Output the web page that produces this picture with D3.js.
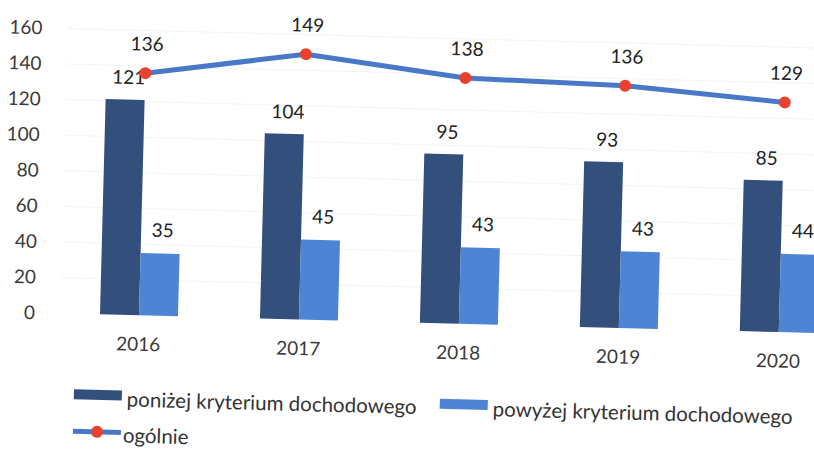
<!DOCTYPE html>
<html>
<head>
<meta charset="utf-8">
<script src="https://cdn.jsdelivr.net/npm/d3@7"></script>
<style>
  body { margin: 0; background: #fff; }
  svg { display: block; font-family: Lato, "Open Sans", sans-serif; }
</style>
</head>
<body>
<div id="chart"></div>
<script>
// data
const years = ["2016", "2017", "2018", "2019", "2020"];
const below = [121, 104, 95, 93, 85];   // poniżej kryterium dochodowego
const above = [35, 45, 43, 43, 44];     // powyżej kryterium dochodowego
const total = [136, 149, 138, 136, 129]; // ogólnie
const yTicks = [0, 20, 40, 60, 80, 100, 120, 140, 160];
const seriesNames = ["poniżej kryterium dochodowego", "powyżej kryterium dochodowego", "ogólnie"];

const WIDTH = 814;
const HEIGHT = 450;
const BASE = 312.5;
const TOP = 27.5;
const DARK = "#33507c";
const LIGHT = "#4d84d6";
const LINE = "#4a78c9";
const DOT = "#e8412f";

const svg = d3.select("#chart").append("svg")
  .attr("width", WIDTH)
  .attr("height", HEIGHT);

// the scan is tilted a bit clockwise
const g = svg.append("g").attr("transform", "rotate(1.5,30,313)");

const x = d3.scaleBand().domain(years).range([59, 859]).paddingInner(0.5125).paddingOuter(0.25625);
const xs = d3.scaleBand().domain(["below", "above"]).range([0, x.bandwidth()]);
const y = d3.scaleLinear().domain([0, 160]).range([BASE, TOP]);

// faint gridlines
g.append("g").selectAll("line").data(yTicks.slice(1)).join("line")
  .attr("x1", 60).attr("x2", 860)
  .attr("y1", d => y(d)).attr("y2", d => y(d))
  .attr("stroke", "#f3f3f3").attr("stroke-width", 1);

// y axis
const yAxis = g.append("g").attr("transform", "translate(36,0)")
  .call(d3.axisLeft(y).tickValues(yTicks).tickSize(0).tickPadding(1));
yAxis.select(".domain").remove();
yAxis.selectAll("text").attr("font-size", 19).attr("fill", "#3a3a3a").attr("font-family", "Lato");

// x axis
const xAxis = g.append("g").attr("transform", `translate(0,${BASE})`)
  .call(d3.axisBottom(x).tickSize(0).tickPadding(22));
xAxis.select(".domain").remove();
xAxis.selectAll("text").attr("font-size", 19).attr("fill", "#3a3a3a").attr("font-family", "Lato");

// bars
const rows = years.map((yr, i) => ({ year: yr, below: below[i], above: above[i], total: total[i] }));

g.append("g").selectAll("rect").data(rows).join("rect")
  .attr("x", d => x(d.year) + xs("below"))
  .attr("y", d => y(d.below))
  .attr("width", xs.bandwidth())
  .attr("height", d => BASE - y(d.below))
  .attr("fill", DARK);

g.append("g").selectAll("rect").data(rows).join("rect")
  .attr("x", d => x(d.year) + xs("above"))
  .attr("y", d => y(d.above))
  .attr("width", xs.bandwidth())
  .attr("height", d => BASE - y(d.above))
  .attr("fill", LIGHT);

// bar labels
g.append("g").selectAll("text").data(rows).join("text")
  .attr("x", d => x(d.year) + xs("below") + xs.bandwidth() / 2 + 3)
  .attr("y", d => y(d.below) - 23)
  .attr("text-anchor", "middle").attr("dominant-baseline", "central")
  .attr("font-size", 19).attr("fill", "#222")
  .text(d => d.below);

g.append("g").selectAll("text").data(rows).join("text")
  .attr("x", d => x(d.year) + xs("above") + xs.bandwidth() / 2 + 2)
  .attr("y", d => y(d.above) - 24)
  .attr("text-anchor", "middle").attr("dominant-baseline", "central")
  .attr("font-size", 19).attr("fill", "#222")
  .text(d => d.above);

// line
const lineGen = d3.line()
  .x(d => x(d.year) + x.bandwidth() / 2)
  .y(d => y(d.total));

g.append("path").datum(rows)
  .attr("d", lineGen)
  .attr("fill", "none")
  .attr("stroke", LINE)
  .attr("stroke-width", 5)
  .attr("stroke-linejoin", "round");

g.append("g").selectAll("circle").data(rows).join("circle")
  .attr("cx", d => x(d.year) + x.bandwidth() / 2)
  .attr("cy", d => y(d.total))
  .attr("r", 6)
  .attr("fill", DOT);

g.append("g").selectAll("text").data(rows).join("text")
  .attr("x", d => x(d.year) + x.bandwidth() / 2 + 1)
  .attr("y", d => y(d.total) - 30)
  .attr("text-anchor", "middle").attr("dominant-baseline", "central")
  .attr("font-size", 19).attr("fill", "#222")
  .text(d => d.total);

// legend
const legend = g.append("g");
const legendItems = [
  { name: seriesNames[0], color: DARK, x: 76, y: 393 },
  { name: seriesNames[1], color: LIGHT, x: 442, y: 393 }
];
legendItems.forEach(item => {
  legend.append("rect")
    .attr("x", item.x).attr("y", item.y - 5)
    .attr("width", 48).attr("height", 10)
    .attr("fill", item.color);
  legend.append("text")
    .attr("x", item.x + 53).attr("y", item.y + 3)
    .attr("dominant-baseline", "central")
    .attr("font-size", 20.5).attr("fill", "#333")
    .text(item.name);
});

legend.append("line")
  .attr("x1", 76).attr("x2", 124).attr("y1", 430).attr("y2", 430)
  .attr("stroke", LINE).attr("stroke-width", 5);
legend.append("circle")
  .attr("cx", 100).attr("cy", 430).attr("r", 6).attr("fill", DOT);
legend.append("text")
  .attr("x", 126).attr("y", 432)
  .attr("dominant-baseline", "central")
  .attr("font-size", 20.5).attr("fill", "#333")
  .text(seriesNames[2]);
</script>
</body>
</html>
